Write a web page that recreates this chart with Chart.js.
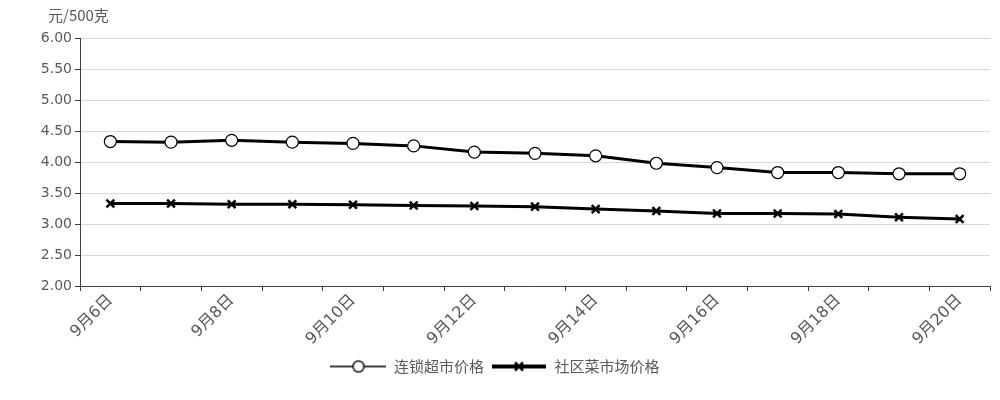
<!DOCTYPE html>
<html>
<head>
<meta charset="utf-8">
<script src="https://cdn.jsdelivr.net/npm/chart.js@4/dist/chart.umd.min.js"></script>
<style>
html,body{margin:0;padding:0;background:#fff;}
#wrap{width:1000px;height:400px;position:relative;}
</style>
</head>
<body>
<div id="wrap"><canvas id="c" width="1000" height="400"></canvas></div>
<script>
const categories = ['9月6日','9月7日','9月8日','9月9日','9月10日','9月11日','9月12日','9月13日','9月14日','9月15日','9月16日','9月17日','9月18日','9月19日','9月20日'];
const supermarketPrice = [4.33,4.32,4.35,4.32,4.30,4.26,4.16,4.14,4.10,3.98,3.91,3.83,3.83,3.81,3.81];
const communityPrice = [3.33,3.33,3.32,3.32,3.31,3.30,3.29,3.28,3.24,3.21,3.17,3.17,3.16,3.11,3.08];
const seriesNames = ['连锁超市价格','社区菜市场价格'];
const yUnit = '元/500克';

const FONT = "'DejaVu Sans', 'Noto Sans CJK SC', sans-serif";
const CJK = "'Noto Sans CJK SC', sans-serif";
const GRAY = '#595959';

function legendIcon(kind){
  const cv = document.createElement('canvas');
  cv.width = 56; cv.height = 16;
  const g = cv.getContext('2d');
  g.strokeStyle = '#000';
  if(kind === 'circle'){
    g.lineWidth = 1.4;
    g.beginPath(); g.moveTo(0,8); g.lineTo(56,8); g.stroke();
    g.fillStyle = '#fff';
    g.lineWidth = 1.4;
    g.beginPath(); g.arc(28,8,5.5,0,Math.PI*2); g.fill(); g.stroke();
  } else {
    g.lineWidth = 4;
    g.beginPath(); g.moveTo(1,8); g.lineTo(55,8); g.stroke();
    g.lineWidth = 2.5;
    g.beginPath(); g.moveTo(24,4); g.lineTo(32,12); g.moveTo(32,4); g.lineTo(24,12); g.stroke();
  }
  return cv;
}
const icons = [legendIcon('circle'), legendIcon('cross')];

const unitPlugin = {
  id:'unitLabel',
  afterDraw(chart){
    const ctx = chart.ctx;
    ctx.save();
    ctx.font = '15px ' + CJK;
    ctx.fillStyle = GRAY;
    ctx.textBaseline = 'middle';
    ctx.textAlign = 'left';
    ctx.fillText(yUnit, 48, 15);
    ctx.restore();
  }
};

new Chart(document.getElementById('c'), {
  type:'line',
  data:{
    labels: categories,
    datasets:[
      {label: seriesNames[0], data: supermarketPrice, borderColor:'#000', borderWidth:3,
       pointStyle:'circle', pointRadius:6, pointBackgroundColor:'#fff', pointBorderColor:'#000', pointBorderWidth:1.2, tension:0},
      {label: seriesNames[1], data: communityPrice, borderColor:'#000', borderWidth:3,
       pointStyle:'crossRot', pointRadius:5.5, pointBorderColor:'#000', pointBorderWidth:2.5, tension:0}
    ]
  },
  options:{
    responsive:false,
    animation:false,
    layout:{padding:{left:0,right:10,top:38,bottom:16}},
    plugins:{
      legend:{
        position:'bottom',
        labels:{
          usePointStyle:true,
          pointStyleWidth:56,
          boxHeight:16,
          font:{size:15, family:CJK},
          color:GRAY,
          padding:7,
          generateLabels(chart){
            return chart.data.datasets.map((d,i)=>({
              text:d.label, pointStyle:icons[i], datasetIndex:i, hidden:false,
              fontColor:GRAY, lineWidth:0, strokeStyle:'rgba(0,0,0,0)', fillStyle:'rgba(0,0,0,0)'
            }));
          }
        }
      },
      tooltip:{enabled:false}
    },
    scales:{
      x:{
        offset:true,
        grid:{offset:true, drawOnChartArea:false, drawTicks:true, tickLength:5, color:'#404040'},
        border:{color:'#404040', width:1},
        ticks:{
          autoSkip:false, maxRotation:45, minRotation:45, color:GRAY,
          font:{size:16, family:FONT}, padding:0,
          callback(v,i){ return i % 2 === 0 ? this.getLabelForValue(v) : ''; }
        },
        afterFit(s){ s.height = 66; }
      },
      y:{
        min:2, max:6,
        grid:{color:'#d9d9d9', drawTicks:true, tickLength:5, tickColor:'#404040'},
        border:{color:'#404040', width:1},
        ticks:{stepSize:0.5, color:GRAY, font:{size:14, family:FONT}, padding:3,
          callback(v){ return v.toFixed(2); }},
        afterFit(s){ s.width = 80; }
      }
    }
  },
  plugins:[unitPlugin]
});
</script>
</body>
</html>
